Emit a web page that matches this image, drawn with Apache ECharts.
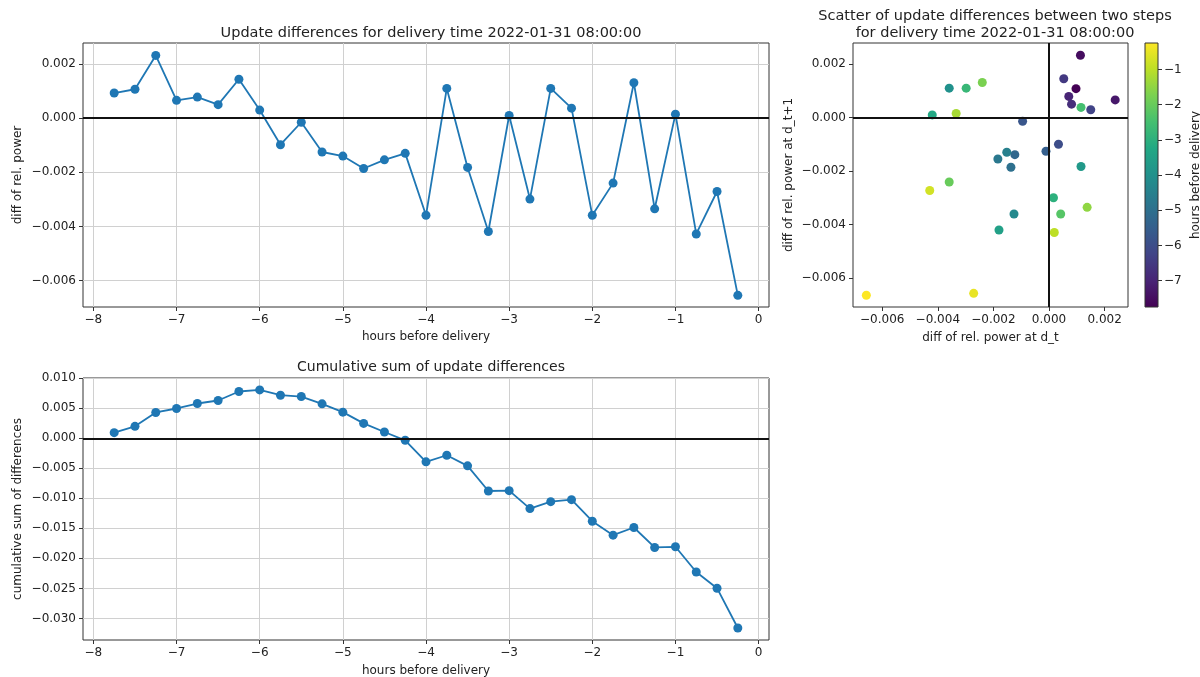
<!DOCTYPE html>
<html>
<head>
<meta charset="utf-8">
<script src="https://cdn.jsdelivr.net/npm/echarts@6/dist/echarts.min.js"></script>
<style>
  html, body { margin: 0; padding: 0; background: #fff; }
  #chart { width: 1200px; height: 677px; }
</style>
</head>
<body>
<div id="chart"></div>
<script>
// Hours before delivery for each update step
const hours = [-7.75, -7.5, -7.25, -7.0, -6.75, -6.5, -6.25, -6.0, -5.75, -5.5, -5.25, -5.0,
  -4.75, -4.5, -4.25, -4.0, -3.75, -3.5, -3.25, -3.0, -2.75, -2.5, -2.25, -2.0,
  -1.75, -1.5, -1.25, -1.0, -0.75, -0.5, -0.25];

// Difference of relative power between consecutive updates
const diffs = [0.00093, 0.00107, 0.00232, 0.00066, 0.00078, 0.0005, 0.00144, 0.0003,
  -0.00098, -0.00015, -0.00125, -0.0014, -0.00186, -0.00154, -0.0013, -0.00359,
  0.0011, -0.00182, -0.00419, 0.0001, -0.00299, 0.0011, 0.00037, -0.00359,
  -0.0024, 0.00131, -0.00335, 0.00015, -0.00428, -0.00271, -0.00655];

// Running total of the differences
const cumulative = [0.00094, 0.002, 0.00431, 0.00497, 0.0058, 0.0063, 0.0078, 0.00807,
  0.00718, 0.00696, 0.00575, 0.00436, 0.00249, 0.00105, -0.00033, -0.00392,
  -0.00282, -0.00459, -0.00878, -0.00872, -0.01171, -0.01055, -0.01022, -0.01381,
  -0.01613, -0.01486, -0.01818, -0.01807, -0.02227, -0.02497, -0.0316];

// Scatter: difference at step d_t against difference at d_t+1
const scatterX = [0.00097, 0.00113, 0.00238, 0.00071, 0.00081, 0.00053, 0.0015, 0.00034,
  -0.00095, -0.00011, -0.00123, -0.00137, -0.00184, -0.00152, -0.00126, -0.00359,
  0.00115, -0.0018, -0.0042, 0.00016, -0.00298, 0.00115, 0.00042, -0.00359,
  -0.0024, 0.00137, -0.00334, 0.00019, -0.00429, -0.00271, -0.00657];
const scatterY = [0.00108, 0.00233, 0.00066, 0.00079, 0.0005, 0.00145, 0.00029, -0.001,
  -0.00014, -0.00126, -0.00139, -0.00186, -0.00155, -0.0013, -0.00361, 0.0011,
  -0.00183, -0.00421, 0.0001, -0.003, 0.0011, 0.00038, -0.00361, -0.00241,
  0.00131, -0.00336, 0.00015, -0.0043, -0.00273, -0.00658, -0.00665];

// Tick positions
const hourTicks = [-8, -7, -6, -5, -4, -3, -2, -1, 0];
const diffTicks = [-0.006, -0.004, -0.002, 0.0, 0.002];
const cumTicks = [-0.03, -0.025, -0.02, -0.015, -0.01, -0.005, 0.0, 0.005, 0.01];
const colorbarTicks = [-7, -6, -5, -4, -3, -2, -1];

const viridis = ['#440154', '#482475', '#414487', '#355f8d', '#2a788e', '#21918c',
  '#22a884', '#44bf70', '#7ad151', '#bddf26', '#fde725'];

const FONT = 'DejaVu Sans';
const TXT = '#222';
const GRIDLINE = '#d0d0d0';
const FRAME = '#333';
const BLUE = '#1f77b4';

const minus = s => s.replace('-', '\u2212');
const fmt3 = v => minus(v.toFixed(3));
const fmtInt = v => minus(String(Math.round(v)));

function valueAxis(extra) {
  const base = {
    type: 'value',
    scale: false,
    axisLine: { show: false, onZero: false },
    axisTick: { show: true, inside: false, length: 4, lineStyle: { color: FRAME, width: 1 } },
    axisLabel: { color: TXT, fontFamily: FONT, fontSize: 12, margin: 7 },
    splitLine: { show: true, lineStyle: { color: GRIDLINE, width: 1 } },
    nameTextStyle: { color: TXT, fontFamily: FONT, fontSize: 12 },
    nameLocation: 'middle',
    nameMoveOverlap: false
  };
  const out = Object.assign({}, base, extra);
  out.axisTick = Object.assign({}, base.axisTick, extra.axisTick || {});
  out.axisLabel = Object.assign({}, base.axisLabel, extra.axisLabel || {});
  out.splitLine = Object.assign({}, base.splitLine, extra.splitLine || {});
  return out;
}

const zeroLine = {
  silent: true,
  symbol: 'none',
  label: { show: false },
  lineStyle: { color: '#111', width: 2, type: 'solid' },
  emphasis: { disabled: true }
};

const titleStyle = { fontFamily: FONT, fontSize: 14, fontWeight: 'normal', color: TXT };

// Plot panels keep their exact rectangles; axis text may sit outside them
const panel = (left, top, width, height, extra) => Object.assign({
  left, top, width, height,
  show: true, borderColor: FRAME, borderWidth: 1,
  backgroundColor: 'transparent',
  containLabel: false,
  outerBoundsMode: 'none'
}, extra || {});

const chart = echarts.init(document.getElementById('chart'), null, { renderer: 'canvas' });

const option = {
  backgroundColor: '#fff',
  animation: false,
  textStyle: { fontFamily: FONT },
  title: [
    {
      text: 'Update differences for delivery time 2022-01-31 08:00:00',
      left: 426, top: 21, textAlign: 'center',
      textStyle: Object.assign({}, titleStyle, { fontSize: 14.5 })
    },
    {
      text: 'Scatter of update differences between two steps\nfor delivery time 2022-01-31 08:00:00',
      left: 990, top: 3, textAlign: 'center',
      textStyle: Object.assign({}, titleStyle, { fontSize: 14.5, lineHeight: 17 })
    },
    {
      text: 'Cumulative sum of update differences',
      left: 426, top: 355, textAlign: 'center',
      textStyle: titleStyle
    }
  ],
  grid: [
    panel(83, 43, 686, 264),
    panel(853, 43, 275, 264),
    panel(83, 378, 686, 262),
    panel(1145, 43, 13, 264, {
      backgroundColor: {
        type: 'linear', x: 0, y: 1, x2: 0, y2: 0,
        colorStops: viridis.map((c, i) => ({ offset: i / (viridis.length - 1), color: c }))
      }
    })
  ],
  xAxis: [
    valueAxis({
      gridIndex: 0, min: -8.125, max: 0.125,
      name: 'hours before delivery', nameGap: 24,
      axisTick: { customValues: hourTicks },
      axisLabel: { customValues: hourTicks, formatter: fmtInt }
    }),
    valueAxis({
      gridIndex: 1, min: -0.00705, max: 0.00284,
      name: 'diff of rel. power at d_t', nameGap: 25,
      axisTick: { customValues: diffTicks },
      axisLabel: { customValues: diffTicks, formatter: fmt3 },
      splitLine: { show: false }
    }),
    valueAxis({
      gridIndex: 2, min: -8.125, max: 0.125,
      name: 'hours before delivery', nameGap: 25,
      axisTick: { customValues: hourTicks },
      axisLabel: { customValues: hourTicks, formatter: fmtInt }
    }),
    {
      type: 'value', gridIndex: 3, min: 0, max: 1,
      axisLine: { show: false }, axisTick: { show: false },
      axisLabel: { show: false }, splitLine: { show: false }
    }
  ],
  yAxis: [
    valueAxis({
      gridIndex: 0, min: -0.00698, max: 0.00278,
      name: 'diff of rel. power', nameGap: 59, nameRotate: 90,
      axisTick: { customValues: diffTicks },
      axisLabel: { customValues: diffTicks, formatter: fmt3 }
    }),
    valueAxis({
      gridIndex: 1, min: -0.00709, max: 0.00279,
      name: 'diff of rel. power at d_t+1', nameGap: 58, nameRotate: 90,
      axisTick: { customValues: diffTicks },
      axisLabel: { customValues: diffTicks, formatter: fmt3 },
      splitLine: { show: false }
    }),
    valueAxis({
      gridIndex: 2, min: -0.0336, max: 0.01005,
      name: 'cumulative sum of differences', nameGap: 59, nameRotate: 90,
      axisTick: { customValues: cumTicks },
      axisLabel: { customValues: cumTicks, formatter: fmt3 }
    }),
    valueAxis({
      gridIndex: 3, min: -7.75, max: -0.25, position: 'right',
      name: 'hours before delivery', nameGap: 32, nameRotate: 90,
      axisTick: { customValues: colorbarTicks },
      axisLabel: { customValues: colorbarTicks, formatter: fmtInt, margin: 6 },
      splitLine: { show: false }
    })
  ],
  visualMap: {
    show: false,
    type: 'continuous',
    seriesIndex: 1,
    dimension: 2,
    min: -7.75,
    max: -0.25,
    inRange: { color: viridis }
  },
  series: [
    {
      type: 'line',
      xAxisIndex: 0, yAxisIndex: 0,
      data: hours.map((h, i) => [h, diffs[i]]),
      symbol: 'circle', symbolSize: 9,
      lineStyle: { color: BLUE, width: 1.8 },
      itemStyle: { color: BLUE },
      markLine: Object.assign({}, zeroLine, { data: [{ yAxis: 0 }] }),
      z: 3
    },
    {
      type: 'scatter',
      xAxisIndex: 1, yAxisIndex: 1,
      data: scatterX.map((x, i) => [x, scatterY[i], hours[i]]),
      symbol: 'circle', symbolSize: 9,
      itemStyle: { opacity: 1 },
      markLine: Object.assign({}, zeroLine, { data: [{ yAxis: 0 }, { xAxis: 0 }] }),
      z: 3
    },
    {
      type: 'line',
      xAxisIndex: 2, yAxisIndex: 2,
      data: hours.map((h, i) => [h, cumulative[i]]),
      symbol: 'circle', symbolSize: 9,
      lineStyle: { color: BLUE, width: 1.8 },
      itemStyle: { color: BLUE },
      markLine: Object.assign({}, zeroLine, { data: [{ yAxis: 0 }] }),
      z: 3
    }
  ]
};

chart.setOption(option);
</script>
</body>
</html>
